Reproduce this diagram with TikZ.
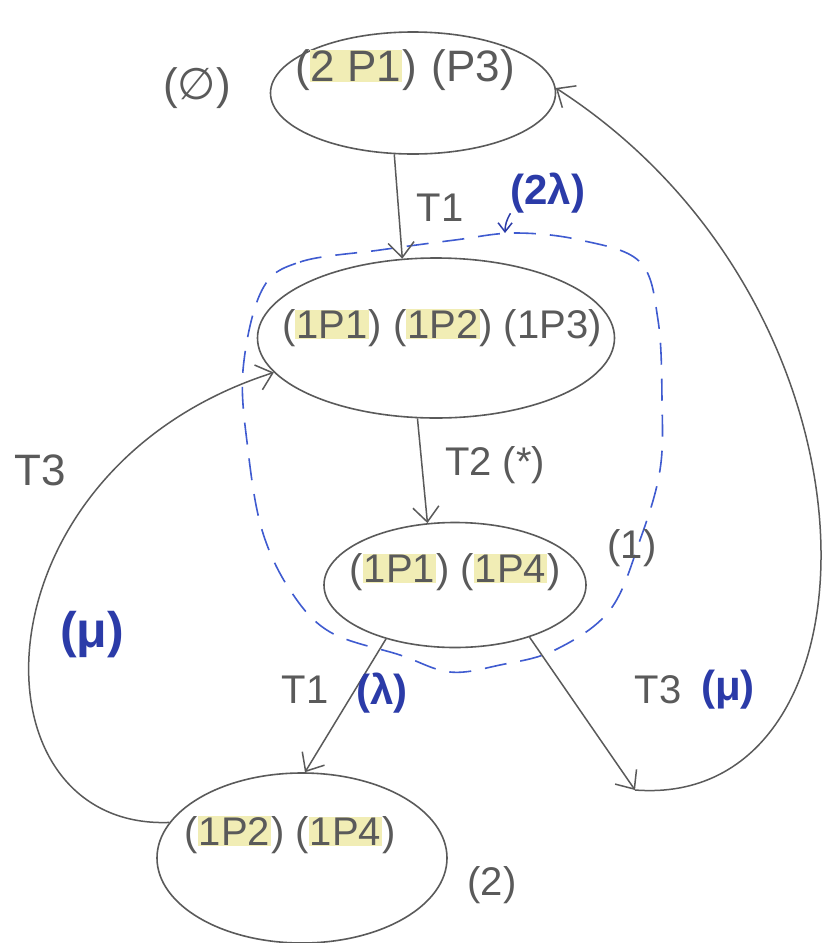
\documentclass[tikz,border=0pt]{standalone}
\usepackage{fontspec}
\setmainfont{Liberation Sans}
\newfontfamily\symf{DejaVu Sans}
\usetikzlibrary{shapes.geometric,arrows.meta}
\definecolor{pencil}{HTML}{5A5A5A}
\definecolor{ink}{HTML}{2B3BA8}
\definecolor{inkdash}{HTML}{3F5BD0}
\definecolor{hl}{HTML}{F1EDB5}
\newcommand\hlx[1]{{\setlength{\fboxsep}{1pt}\colorbox{hl}{#1}}}
\begin{document}
\begin{tikzpicture}[x=1pt,y=-1pt,
  state/.style={draw=pencil, line width=1.6pt, ellipse, inner sep=0pt},
  stxt/.style={text=pencil, font=\fontsize{40}{44}\selectfont, inner sep=0pt},
  lbl/.style={text=pencil, font=\fontsize{40}{44}\selectfont, inner sep=0pt},
  blbl/.style={text=ink, font=\fontsize{42}{46}\selectfont\bfseries, inner sep=0pt},
  edge/.style={draw=pencil, line width=1.5pt, -{Straight Barb[length=15pt,width=26pt]}},
  region/.style={draw=inkdash, line width=1.6pt, dash pattern=on 22pt off 14pt},
  inkarrow/.style={draw=ink, line width=1.5pt, -{Straight Barb[length=9pt,width=14pt]}}]
\useasboundingbox (0,0) rectangle (834,943);
\fill[white] (0,0) rectangle (834,943);

% dashed region
\draw[region] plot[smooth cycle, tension=0.6] coordinates {
  (262,290) (300,262) (380,250) (455,240) (515,233) (580,240) (640,262)
  (658,320) (662,400) (660,470) (640,540) (610,610) (555,650) (500,665)
  (450,672) (400,655) (330,632) (290,590) (262,530) (248,450) (243,370)};

% states
\node[state, minimum width=285pt, minimum height=122pt] (n0) at (413,93) {};
\node[state, minimum width=357pt, minimum height=160pt] (nm) at (436,338) {};
\node[state, minimum width=262pt, minimum height=125pt] (n1) at (455,585) {};
\node[state, minimum width=290pt, minimum height=170pt] (n2) at (302,858) {};

\node[stxt, font=\fontsize{44}{48}\selectfont] (t0) at (405,70) {(\hlx{2 P1})\,\,(P3)};
\node[stxt] (tm) at (442,328) {(\hlx{1P1}) (\hlx{1P2}) (1P3)};
\node[stxt] (t1) at (455,572) {(\hlx{1P1}) (\hlx{1P4})};
\node[stxt] (t2) at (290,835) {(\hlx{1P2}) (\hlx{1P4})};

% state labels
\node[stxt, font=\fontsize{44}{48}\selectfont] (s0) at (197,88) {({\symf ∅})};
\node[lbl] (s1) at (632,548) {(1)};
\node[lbl] (s2) at (492,885) {(2)};

% edges
\draw[edge] (n0.253) -- (nm.113.6);
\draw[edge] (nm.257) -- (n1.114);
\draw[edge] (n1.218.7) -- (n2.88);
\coordinate (c1) at (635,790);
\draw[edge] (n1.325) -- (c1);
\draw[edge] (c1) .. controls (890,810) and (900,310) .. (n0.2);
\draw[edge] (n2.165) .. controls (-35,830) and (-30,470) .. (nm.192.5);

% edge labels
\node[lbl] (lT1a) at (440,208) {T1};
\node[blbl] (l2lam) at (548,193) {(2λ)};
\coordinate (cA) at (505,233);
\draw[inkarrow] (l2lam.south west) to[bend right=15] (cA);
\node[lbl] (lT2) at (495,465) {T2 (*)};
\node[lbl] (lT1b) at (305,690) {T1};
\node[blbl] (llam) at (382,693) {(λ)};
\node[lbl] (lT3r) at (658,690) {T3};
\node[blbl] (lmur) at (728,690) {(μ)};
\node[lbl, font=\fontsize{44}{48}\selectfont] (lT3l) at (40,470) {T3};
\node[blbl, font=\fontsize{50}{54}\selectfont\bfseries] (lmul) at (92,635) {(μ)};
\end{tikzpicture}
\end{document}
